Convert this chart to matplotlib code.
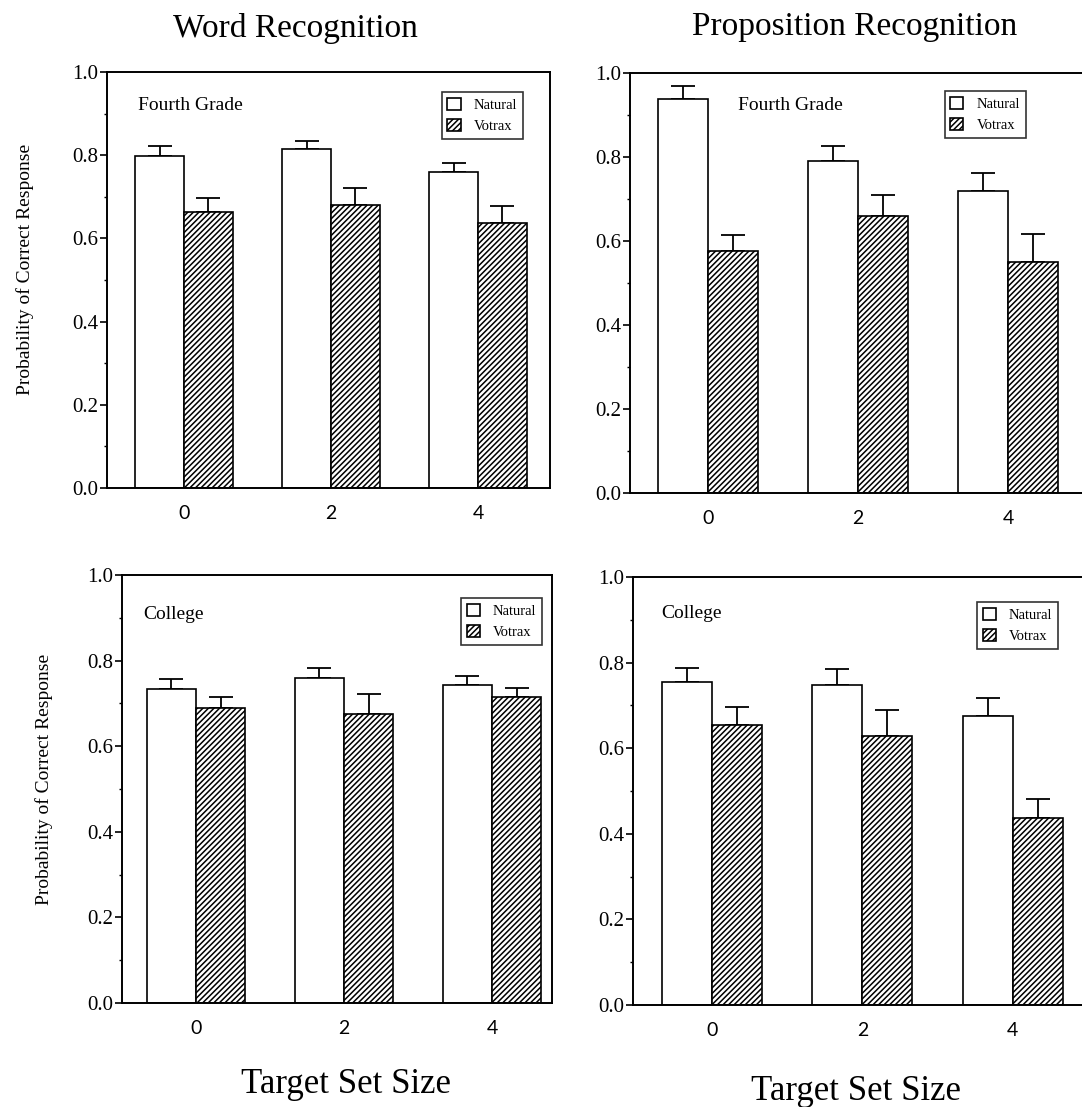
import matplotlib
matplotlib.use('Agg')
import matplotlib.pyplot as plt
from matplotlib.ticker import MultipleLocator

plt.rcParams['font.family'] = ['Liberation Serif', 'DejaVu Serif']
plt.rcParams['hatch.linewidth'] = 1.1

W, H = 1082, 1107

set_sizes = ['0', '2', '4']
series_names = ['Natural', 'Votrax']

# probability of correct response, upper error bar length
word_4th_natural = [0.798, 0.815, 0.760]
word_4th_natural_err = [0.023, 0.018, 0.021]
word_4th_votrax = [0.663, 0.681, 0.638]
word_4th_votrax_err = [0.035, 0.041, 0.041]

prop_4th_natural = [0.937, 0.790, 0.719]
prop_4th_natural_err = [0.032, 0.036, 0.044]
prop_4th_votrax = [0.577, 0.659, 0.551]
prop_4th_votrax_err = [0.037, 0.050, 0.065]

word_college_natural = [0.733, 0.759, 0.744]
word_college_natural_err = [0.025, 0.023, 0.020]
word_college_votrax = [0.689, 0.675, 0.716]
word_college_votrax_err = [0.027, 0.048, 0.020]

prop_college_natural = [0.755, 0.747, 0.675]
prop_college_natural_err = [0.032, 0.039, 0.043]
prop_college_votrax = [0.654, 0.628, 0.437]
prop_college_votrax_err = [0.043, 0.061, 0.045]


def px_axes(fig, left, top, right, bottom):
    return fig.add_axes([left / W, 1 - bottom / H, (right - left) / W, (bottom - top) / H])


def draw_panel(ax, natural, natural_err, votrax, votrax_err, label, label_pos,
               legend_pos, xlim, show_right=True):
    width = 0.333
    x = list(range(len(set_sizes)))
    xn = [i - width / 2 for i in x]
    xv = [i + width / 2 for i in x]

    ax.bar(xn, natural, width, color='white', edgecolor='black', linewidth=1.2,
           label=series_names[0], zorder=2)
    ax.bar(xv, votrax, width, color='white', edgecolor='black', linewidth=1.2,
           hatch='//////', label=series_names[1], zorder=2)
    ax.errorbar(xn, natural, yerr=[[0] * 3, natural_err], fmt='none', ecolor='black',
                elinewidth=1.3, capsize=8.5, capthick=1.3, zorder=1)
    ax.errorbar(xv, votrax, yerr=[[0] * 3, votrax_err], fmt='none', ecolor='black',
                elinewidth=1.3, capsize=8.5, capthick=1.3, zorder=1)

    ax.set_xlim(*xlim)
    ax.set_ylim(0, 1.0)
    ax.set_xticks(x)
    ax.set_xticklabels(set_sizes, fontfamily='Lato', fontsize=14)
    ax.tick_params(axis='x', length=0, pad=12)
    ax.set_yticks([0, 0.2, 0.4, 0.6, 0.8, 1.0])
    ax.set_yticklabels(['0.0', '0.2', '0.4', '0.6', '0.8', '1.0'], fontsize=15)
    ax.yaxis.set_minor_locator(MultipleLocator(0.1))
    ax.tick_params(axis='y', which='major', length=5, width=1.2, pad=1, direction='out')
    ax.tick_params(axis='y', which='minor', length=2.5, width=1.0, direction='out')

    for side in ['left', 'bottom', 'top', 'right']:
        ax.spines[side].set_linewidth(1.4)
    if not show_right:
        ax.spines['right'].set_visible(False)

    ax.text(label_pos[0], label_pos[1], label, transform=ax.transAxes,
            fontsize=14, va='baseline', ha='left')

    leg = ax.legend(loc='upper right', bbox_to_anchor=legend_pos, borderaxespad=0,
                    fancybox=False, frameon=True, fontsize=10.5, handlelength=0.9,
                    handleheight=0.9, handletextpad=0.9, borderpad=0.4,
                    labelspacing=0.5)
    leg.get_frame().set_edgecolor('black')
    leg.get_frame().set_linewidth(1.2)


fig = plt.figure(figsize=(W / 100, H / 100), dpi=100)

ax_tl = px_axes(fig, 107, 72, 550, 488)
draw_panel(ax_tl, word_4th_natural, word_4th_natural_err, word_4th_votrax,
           word_4th_votrax_err, 'Fourth Grade', (0.07, 0.909), (0.939, 0.952),
           (-0.524, 2.49))

ax_tr = px_axes(fig, 630, 73, 1083, 493)
draw_panel(ax_tr, prop_4th_natural, prop_4th_natural_err, prop_4th_votrax,
           prop_4th_votrax_err, 'Fourth Grade', (0.238, 0.912), (0.874, 0.957),
           (-0.52, 2.5), show_right=False)

ax_bl = px_axes(fig, 122, 575, 552, 1003)
draw_panel(ax_bl, word_college_natural, word_college_natural_err, word_college_votrax,
           word_college_votrax_err, 'College', (0.049, 0.897), (0.977, 0.946),
           (-0.5, 2.405))

ax_br = px_axes(fig, 633, 577, 1082, 1005)
draw_panel(ax_br, prop_college_natural, prop_college_natural_err, prop_college_votrax,
           prop_college_votrax_err, 'College', (0.062, 0.904), (0.947, 0.942),
           (-0.525, 2.46), show_right=False)

fig.text(295 / W, 1 - 37 / H, 'Word Recognition', fontsize=24, ha='center', va='baseline')
fig.text(855 / W, 1 - 35 / H, 'Proposition Recognition', fontsize=24, ha='center', va='baseline')
fig.text(346 / W, 1 - 1093 / H, 'Target Set Size', fontsize=25, ha='center', va='baseline')
fig.text(856 / W, 1 - 1100 / H, 'Target Set Size', fontsize=25, ha='center', va='baseline')
fig.text(25 / W, 1 - 269 / H, 'Probability of Correct Response', fontsize=14,
         rotation=90, ha='center', va='center')
fig.text(44 / W, 1 - 779 / H, 'Probability of Correct Response', fontsize=14,
         rotation=90, ha='center', va='center')

fig.savefig('out.png', dpi=100)
